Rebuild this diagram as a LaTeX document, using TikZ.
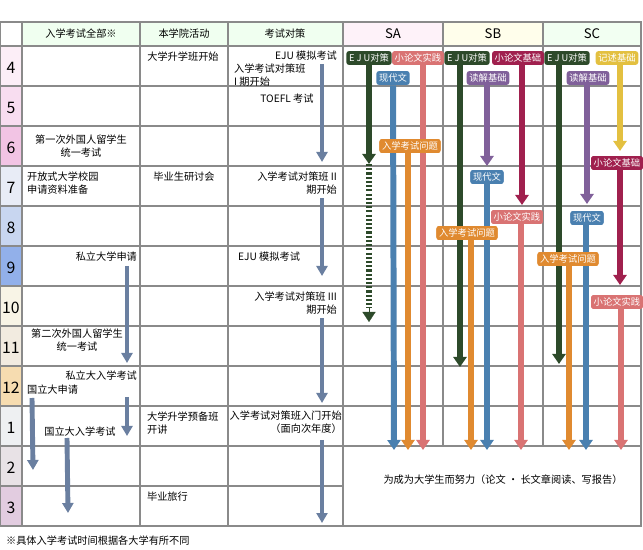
\documentclass[tikz,border=0pt]{standalone}
\usepackage{fontspec}
\setmainfont{Noto Sans CJK SC}
\usetikzlibrary{arrows.meta}
\definecolor{gridc}{HTML}{8A8A8A}
\definecolor{ejuc}{HTML}{2D4A2A}
\definecolor{ronc}{HTML}{D97373}
\definecolor{genc}{HTML}{4A80B0}
\definecolor{mondc}{HTML}{E08A30}
\definecolor{kisoc}{HTML}{A0204E}
\definecolor{dokuc}{HTML}{80609A}
\definecolor{kijc}{HTML}{E3C040}
\definecolor{planc}{HTML}{6A7FA0}
\begin{document}
\begin{tikzpicture}[x=0.02cm, y=-0.02cm, >=Triangle]
        \tikzstyle{txt}=[font=\fontsize{5.8}{7.2}\selectfont, inner sep=1pt, align=left]
        \tikzstyle{tag}=[rounded corners=1.5pt, text=white, inner sep=1.5pt, font=\fontsize{5.3}{6}\selectfont]
        \tikzstyle{bar}=[line width=3.4pt, -{Triangle[length=0.2cm,width=0.26cm]}]
        \tikzstyle{plan}=[planc, line width=2.8pt, -{Triangle[length=0.2cm,width=0.22cm]}]
        \useasboundingbox (0,0) rectangle (643,550);

        % header and month colours
        \fill[green!6] (22,22) rectangle (343,46);
        \fill[magenta!5] (343,22) rectangle (443,46);
        \fill[yellow!8] (443,22) rectangle (543,46);
        \fill[green!5] (543,22) rectangle (641,46);
        \foreach \m/\c [count=\i from 0] in {4/FCEEF7,5/F8DDF0,6/F2C4E4,7/E8ECF6,8/C8D6F0,9/92B0EA,10/F8F4E6,11/F2EBE0,12/F6DCB0,1/EEF0F2,2/E8E2E6,3/E2CCE0}{
          \definecolor{mc}{HTML}{\c}
          \fill[mc] (0,46+40*\i) rectangle (22,86+40*\i);
          \node[font=\fontsize{9}{9}\selectfont] (m\m) at (11,68+40*\i) {\m};
        }

        % grid
        \draw[gridc, line width=0.9pt] (0,22) rectangle (641,526);
        \foreach \y in {46,86,...,446} \draw[gridc, line width=0.9pt] (0,\y) -- (641,\y);
        \draw[gridc, line width=0.9pt] (0,486) -- (343,486);
        \foreach \x in {22,140,228,343} \draw[gridc, line width=0.9pt] (\x,22) -- (\x,526);
        \foreach \x in {443,543} \draw[gridc, line width=0.9pt] (\x,22) -- (\x,446);

        % headers
        \node[txt] (h-all) at (81,34) {入学考试全部※};
        \node[txt] (h-act) at (184,34) {本学院活动};
        \node[txt] (h-exam) at (285,34) {考试对策};
        \node[font=\fontsize{7.5}{8}\selectfont] (h-sa) at (393,34) {SA};
        \node[font=\fontsize{7.5}{8}\selectfont] (h-sb) at (493,34) {SB};
        \node[font=\fontsize{7.5}{8}\selectfont] (h-sc) at (592,34) {SC};

        % entrance exams
        \node[txt, align=center] (eju1) at (81,146) {第一次外国人留学生\\统一考试};
        \node[txt, anchor=north west] (open) at (25,170) {开放式大学校园\\申请资料准备};
        \node[txt, anchor=north east] (priv) at (139,250) {私立大学申请};
        \node[txt, align=center] (eju2) at (77,340) {第二次外国人留学生\\统一考试};
        \node[txt, anchor=north east] (privx) at (139,369) {私立大入学考试};
        \node[txt, anchor=north west] (natap) at (25,383) {国立大申请};
        \node[txt] (natx) at (80,432) {国立大入学考试};

        % school activities
        \node[txt] (prep) at (183,57) {大学升学班开始};
        \node[txt] (grad) at (184,177) {毕业生研讨会};
        \node[txt, anchor=north west] (prep2) at (145,410) {大学升学预备班\\开讲};
        \node[txt, anchor=north west] (trip) at (145,490) {毕业旅行};

        % exam measures
        \node[txt, anchor=north east] (mock1) at (339,49) {EJU 模拟考试};
        \node[txt, anchor=north west] (c1) at (232,62) {入学考试对策班\\I 期开始};
        \node[txt] (toefl) at (287,99) {TOEFL 考试};
        \node[txt, anchor=north east, align=right] (c2) at (339,170) {入学考试对策班 II\\期开始};
        \node[txt, anchor=north west] (mock2) at (236,250) {EJU 模拟考试};
        \node[txt, anchor=north east, align=right] (c3) at (339,290) {入学考试对策班 III\\期开始};
        \node[txt, anchor=north east, align=right, inner sep=0.5pt] (c4) at (343,410) {入学考试对策班入门开始\\（面向次年度）};

        \coordinate (p1) at (322,64);  \coordinate (q1) at (322,162);
        \coordinate (p2) at (322,198); \coordinate (q2) at (322,276);
        \coordinate (p3) at (322,318); \coordinate (q3) at (322,403);
        \coordinate (p4) at (322,440); \coordinate (q4) at (322,523);
        \coordinate (p5) at (127,266); \coordinate (q5) at (127,363);
        \coordinate (p6) at (127,397); \coordinate (q6) at (127,436);
        \coordinate (p7) at (32,398);  \coordinate (q7) at (33,470);
        \coordinate (p8) at (67,438);  \coordinate (q8) at (68,513);
        \foreach \i in {1,...,8} \draw[plan] (p\i) -- (q\i);

        % SA
        \node[tag, fill=ejuc] (sa-eju) at (369,58) {E J U对策};
        \node[tag, fill=ronc] (sa-ron) at (418,58) {小论文实践};
        \node[tag, fill=genc] (sa-gen) at (393,78) {现代文};
        \node[tag, fill=mondc] (sa-mon) at (410,146) {入学考试问题};
        \coordinate (sa-e1) at (369,164); \coordinate (sa-e2) at (369,322);
        \draw[bar, ejuc] (sa-eju) -- (sa-e1);
        \draw[ejuc, line width=3.4pt, dash pattern=on 1.2pt off 1.2pt] (sa-e1) -- (369,308);
        \draw[ejuc, -{Triangle[length=0.2cm,width=0.26cm]}, line width=0.1pt] (369,308) -- (sa-e2);
        \draw[bar, ronc] (sa-ron.south -| 423,0) -- (423,450);
        \draw[bar, genc] (sa-gen) -- (394,450);
        \draw[bar, mondc] (sa-mon.south -| 408,0) -- (408,450);

        % SB
        \node[tag, fill=ejuc] (sb-eju) at (467,58) {E J U对策};
        \node[tag, fill=kisoc] (sb-kiso) at (518,58) {小论文基础};
        \node[tag, fill=dokuc] (sb-doku) at (488,78) {读解基础};
        \node[tag, fill=genc] (sb-gen) at (487,177) {现代文};
        \node[tag, fill=ronc] (sb-ron) at (517,217) {小论文实践};
        \node[tag, fill=mondc] (sb-mon) at (467,233) {入学考试问题};
        \draw[bar, ejuc] (sb-eju.south -| 460,0) -- (460,367);
        \draw[bar, kisoc] (sb-kiso.south -| 522,0) -- (522,205);
        \draw[bar, dokuc] (sb-doku.south -| 487,0) -- (487,166);
        \draw[bar, genc] (sb-gen) -- (487,450);
        \draw[bar, ronc] (sb-ron.south -| 521,0) -- (521,450);
        \draw[bar, mondc] (sb-mon.south -| 471,0) -- (471,450);

        % SC
        \node[tag, fill=ejuc] (sc-eju) at (567,58) {E J U对策};
        \node[tag, fill=kijc] (sc-kij) at (617,58) {记述基础};
        \node[tag, fill=dokuc] (sc-doku) at (588,78) {读解基础};
        \node[tag, fill=kisoc] (sc-kiso) at (617,163) {小论文基础};
        \node[tag, fill=genc] (sc-gen) at (587,218) {现代文};
        \node[tag, fill=mondc] (sc-mon) at (568,259) {入学考试问题};
        \node[tag, fill=ronc] (sc-ron) at (617,302) {小论文实践};
        \draw[bar, ejuc] (sc-eju.south -| 559,0) -- (559,364);
        \draw[bar, kijc] (sc-kij.south -| 620,0) -- (620,151);
        \draw[bar, dokuc] (sc-doku.south -| 587,0) -- (587,204);
        \draw[bar, kisoc] (sc-kiso.south -| 620,0) -- (620,285);
        \draw[bar, genc] (sc-gen.south -| 586,0) -- (586,450);
        \draw[bar, mondc] (sc-mon.south -| 569,0) -- (569,450);
        \draw[bar, ronc] (sc-ron.south -| 621,0) -- (621,450);

        % re-draw tags over bars
        \foreach \t/\c/\txt in {sa-mon/mondc/入学考试问题, sb-gen/genc/现代文, sb-ron/ronc/小论文实践, sb-mon/mondc/入学考试问题, sc-kiso/kisoc/小论文基础, sc-gen/genc/现代文, sc-mon/mondc/入学考试问题, sc-ron/ronc/小论文实践}
          \node[tag, fill=\c] at (\t) {\txt};

        \node[txt] (goal) at (503,480) {为成为大学生而努力（论文 · 长文章阅读、写报告）};
        \node[txt, anchor=west] (note) at (4,541) {※具体入学考试时间根据各大学有所不同};
\end{tikzpicture}
\end{document}
